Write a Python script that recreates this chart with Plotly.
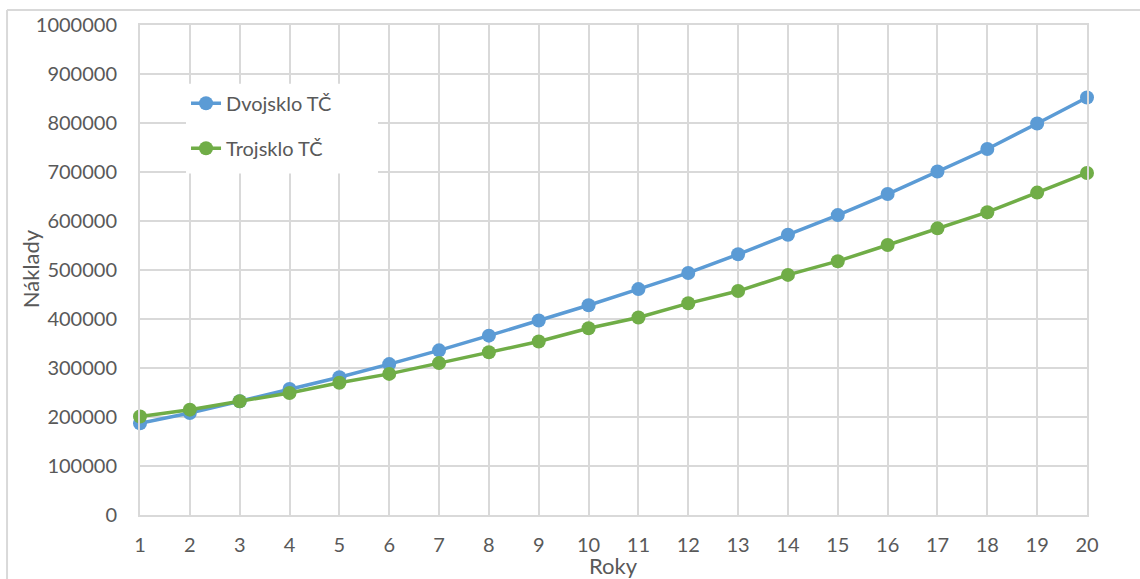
import plotly.graph_objects as go

# Costs over 20 years for two heat-pump glazing variants
roky = list(range(1, 21))
dvojsklo = [187000, 208000, 232000, 257000, 281000, 308000, 336000, 366000, 397000, 428000,
            461000, 494000, 532000, 572000, 612000, 655000, 701000, 747000, 799000, 852000]
trojsklo = [201000, 215000, 232000, 249000, 270000, 288000, 310000, 332000, 354000, 381000,
            403000, 432000, 457000, 490000, 518000, 551000, 585000, 618000, 658000, 698000]

y_ticks = list(range(0, 1000001, 100000))

FONT = "Lato"
TXT = "#595959"
GRID = "#D9D9D9"

fig = go.Figure()
fig.add_trace(go.Scatter(
    x=roky, y=dvojsklo, name="Dvojsklo TČ", mode="lines+markers",
    line=dict(color="#5B9BD5", width=3.5),
    marker=dict(color="#5B9BD5", size=14),
    cliponaxis=False, legendgroup="a",
))
fig.add_trace(go.Scatter(
    x=roky, y=trojsklo, name="Trojsklo TČ", mode="lines+markers",
    line=dict(color="#70AD47", width=3.5),
    marker=dict(color="#70AD47", size=14),
    cliponaxis=False, legendgroup="b",
))

fig.update_layout(
    width=1140, height=579,
    margin=dict(l=140, r=53, t=23, b=64),
    paper_bgcolor="white", plot_bgcolor="white",
    font=dict(family=FONT, color=TXT, size=20),
    showlegend=True,
    legend=dict(
        x=0.0486, y=0.88, xanchor="left", yanchor="top",
        bgcolor="white", font=dict(size=20, color=TXT),
        tracegroupgap=16, traceorder="grouped",
    ),
    xaxis=dict(
        range=[1, 20], tickmode="array", tickvals=roky,
        showgrid=True, gridcolor=GRID, gridwidth=2,
        showline=True, linecolor=GRID, linewidth=2, mirror=True,
        zeroline=False, ticks="", ticklabelstandoff=11,
        tickfont=dict(size=20, color=TXT),
    ),
    yaxis=dict(
        range=[0, 1000000], tickmode="array", tickvals=y_ticks,
        ticktext=[str(v) for v in y_ticks],
        showgrid=True, gridcolor=GRID, gridwidth=2,
        showline=True, linecolor=GRID, linewidth=2, mirror=True,
        zeroline=False, ticks="", ticklabelstandoff=17,
        tickfont=dict(size=20, color=TXT),
    ),
    annotations=[
        dict(text="Roky", xref="paper", yref="paper", x=0.5005, y=-0.103,
             xanchor="center", yanchor="middle", showarrow=False,
             font=dict(size=22, color=TXT)),
        dict(text="Náklady", xref="paper", yref="paper", x=-0.116, y=0.502,
             xanchor="center", yanchor="middle", showarrow=False, textangle=-90,
             font=dict(size=22, color=TXT)),
    ],
    shapes=[
        # white panel behind the legend, hiding the grid
        dict(type="rect", xref="paper", yref="paper", x0=0.0486, x1=0.2513,
             y0=0.697, y1=0.88, fillcolor="white", line=dict(width=0),
             layer="above"),
        dict(type="line", xref="paper", yref="paper", x0=-0.1404, x1=1.06,
             y0=1.0305, y1=1.0305, line=dict(color=GRID, width=2)),
        dict(type="line", xref="paper", yref="paper", x0=-0.1404, x1=-0.1404,
             y0=1.0305, y1=-0.2, line=dict(color=GRID, width=2)),
    ],
)

fig.write_html("out.html")
